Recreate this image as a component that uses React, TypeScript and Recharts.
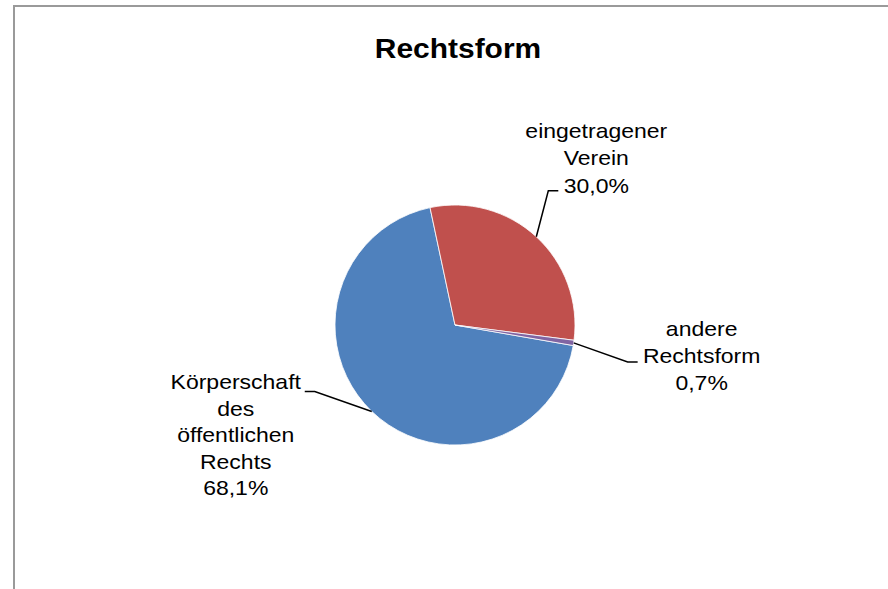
import React from "react";
import { PieChart, Pie, Cell } from "recharts";

const categories = ["Körperschaft des öffentlichen Rechts", "eingetragener Verein", "andere Rechtsform"];
const shares = [68.1, 30.0, 0.7];
const colors = ["#4F81BD", "#C0504D", "#8064A2"];
// wrapped label text for each category
const labelLines = [
  ["Körperschaft", "des", "öffentlichen", "Rechts"],
  ["eingetragener", "Verein"],
  ["andere", "Rechtsform"],
];

const data = categories.map((name, i) => ({ name, value: shares[i] }));

// leader line / text placement relative to the slice edge point
const LAYOUT = [
  { elbow: [-57, -20], end: [-67, -20], text: [-136, -22], lh: 26.5 },
  { elbow: [12, -46], end: [22, -46], text: [60, -99], lh: 27.5 },
  { elbow: [54, 19], end: [64, 19], text: [128, -7], lh: 27 },
];

const RAD = Math.PI / 180;
const FONT = "'Liberation Sans', Arial, sans-serif";

const fmt = (v: number) => v.toFixed(1).replace(".", ",") + "%";

function renderLabel(props: any) {
  const { cx, cy, midAngle, outerRadius, index, value } = props;
  const sx = cx + outerRadius * Math.cos(-midAngle * RAD);
  const sy = cy + outerRadius * Math.sin(-midAngle * RAD);
  const l = LAYOUT[index];
  const lines = [...labelLines[index], fmt(value)];
  const tx = sx + l.text[0];
  const ty = sy + l.text[1];
  return (
    <g key={`lbl-${index}`}>
      <polyline
        points={`${sx},${sy} ${sx + l.elbow[0]},${sy + l.elbow[1]} ${sx + l.end[0]},${sy + l.end[1]}`}
        fill="none"
        stroke="#000"
        strokeWidth={1.5}
      />
      <text
        transform={`translate(${tx},${ty}) scale(1.15,1)`}
        textAnchor="middle"
        fontFamily={FONT}
        fontSize={20}
        fill="#000"
      >
        {lines.map((t, i) => (
          <tspan key={i} x={0} y={i * l.lh}>
            {t}
          </tspan>
        ))}
      </text>
    </g>
  );
}

export default function App() {
  return (
    <div style={{ position: "absolute", left: 0, top: 0, width: 888, height: 589, background: "#fff" }}>
      <svg width={888} height={589} style={{ position: "absolute", left: 0, top: 0 }}>
        <line x1={14} y1={6} x2={888} y2={6} stroke="#9a9a9a" strokeWidth={2} />
        <line x1={14} y1={5} x2={14} y2={589} stroke="#9a9a9a" strokeWidth={2} />
        <text
          transform="translate(458,58) scale(1.07,1)"
          textAnchor="middle"
          fontFamily={FONT}
          fontWeight="bold"
          fontSize={28}
          fill="#000"
        >
          Rechtsform
        </text>
      </svg>
      <div style={{ position: "absolute", left: 0, top: 0 }}>
        <PieChart width={888} height={589} margin={{ top: 0, right: 0, bottom: 0, left: 0 }}>
          <Pie
            data={data}
            dataKey="value"
            nameKey="name"
            cx={455}
            cy={325}
            outerRadius={120}
            startAngle={-9.86}
            endAngle={-369.86}
            stroke="#fff"
            strokeWidth={0.8}
            label={renderLabel}
            labelLine={false}
            isAnimationActive={false}
          >
            {data.map((d, i) => (
              <Cell key={d.name} fill={colors[i]} />
            ))}
          </Pie>
        </PieChart>
      </div>
    </div>
  );
}
